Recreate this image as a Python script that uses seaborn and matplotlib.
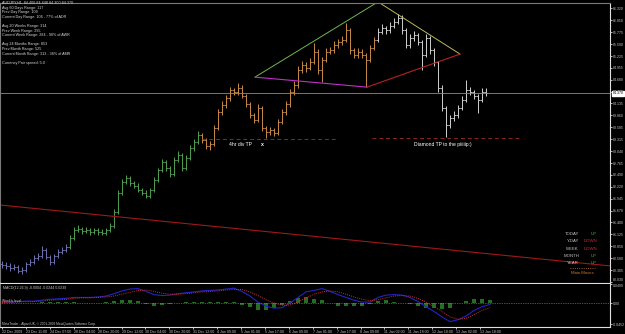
import matplotlib
matplotlib.use("Agg")
import matplotlib.pyplot as plt
import numpy as np
import pandas as pd
import seaborn as sns

# ---------------- data ----------------
first_open = 80.45
closes = [80.42, 80.40, 80.35, 80.37, 80.28, 80.31, 80.44, 80.49, 80.58, 80.63,
          80.77, 80.61, 80.49, 80.63, 80.72, 80.77, 80.83, 81.04, 81.22, 81.25,
          81.20, 81.22, 81.18, 81.22, 81.18, 81.16, 81.22, 81.32, 81.64, 82.08,
          82.33, 82.42, 82.31, 82.24, 82.15, 82.08, 82.01, 82.15, 82.38, 82.60,
          82.79, 82.65, 82.51, 82.83, 82.95, 82.65, 82.88, 83.11, 83.25, 83.41,
          83.29, 83.16, 83.20, 83.57, 83.94, 84.10, 84.26, 84.44, 84.40, 84.49,
          84.31, 84.12, 83.87, 83.75, 84.03, 83.57, 83.48, 83.52, 83.46, 83.71,
          83.94, 84.12, 84.40, 84.56, 84.90, 85.02, 84.95, 85.09, 85.32, 84.90,
          85.13, 85.32, 85.36, 85.48, 85.55, 85.59, 85.82, 85.36, 85.25, 85.32,
          85.25, 85.13, 85.41, 85.59, 85.78, 85.87, 85.82, 85.91, 86.01, 86.10,
          85.82, 85.48, 85.64, 85.71, 85.55, 85.25, 85.64, 85.36, 85.09, 84.49,
          84.03, 83.64, 83.80, 83.87, 84.03, 84.21, 84.44, 84.40, 84.31, 84.21,
          84.40, 84.37]
highs = [80.52, 80.50, 80.46, 80.45, 80.42, 80.38, 80.50, 80.56, 80.65, 80.70,
         80.85, 80.81, 80.66, 80.68, 80.78, 80.84, 80.90, 81.10, 81.30, 81.33,
         81.30, 81.29, 81.27, 81.28, 81.26, 81.24, 81.28, 81.38, 81.70, 82.14,
         82.40, 82.50, 82.47, 82.36, 82.30, 82.20, 82.14, 82.20, 82.44, 82.66,
         82.86, 82.84, 82.70, 82.90, 83.04, 83.00, 82.94, 83.18, 83.32, 83.50,
         83.46, 83.34, 83.27, 83.64, 84.00, 84.18, 84.33, 84.52, 84.50, 84.60,
         84.55, 84.36, 84.16, 83.92, 84.13, 84.08, 83.62, 83.60, 83.58, 83.77,
         84.00, 84.20, 84.46, 84.64, 85.00, 85.10, 85.08, 85.18, 85.52, 85.38,
         85.20, 85.40, 85.44, 85.56, 85.62, 85.68, 85.98, 85.88, 85.42, 85.40,
         85.38, 85.30, 85.48, 85.66, 85.86, 85.95, 85.92, 86.00, 86.10, 86.20,
         86.16, 85.86, 85.72, 85.80, 85.76, 85.60, 85.74, 85.68, 85.42, 85.12,
         84.55, 84.08, 83.88, 83.95, 84.10, 84.30, 84.67, 84.52, 84.45, 84.36,
         84.48, 84.50]
lows = [80.36, 80.33, 80.29, 80.30, 80.24, 80.22, 80.27, 80.40, 80.45, 80.53,
        80.58, 80.55, 80.42, 80.45, 80.58, 80.67, 80.72, 80.79, 81.00, 81.17,
        81.14, 81.15, 81.12, 81.13, 81.12, 81.10, 81.12, 81.18, 81.28, 81.60,
        82.02, 82.28, 82.24, 82.18, 82.09, 82.02, 81.95, 81.96, 82.10, 82.33,
        82.55, 82.58, 82.44, 82.47, 82.78, 82.58, 82.60, 82.84, 83.05, 83.20,
        83.22, 83.08, 83.06, 83.15, 83.52, 83.88, 84.04, 84.20, 84.33, 84.34,
        84.25, 84.05, 83.80, 83.68, 83.70, 83.50, 83.34, 83.42, 83.39, 83.42,
        83.66, 83.88, 84.06, 84.34, 84.50, 84.84, 84.86, 84.90, 85.04, 84.82,
        84.62, 85.08, 85.27, 85.30, 85.42, 85.48, 85.54, 85.28, 85.18, 85.18,
        85.18, 84.51, 85.08, 85.36, 85.54, 85.72, 85.74, 85.76, 85.86, 85.96,
        85.74, 85.40, 85.42, 85.58, 85.48, 84.90, 85.20, 85.28, 85.00, 84.40,
        83.95, 83.36, 83.58, 83.74, 83.80, 83.98, 84.16, 84.32, 84.24, 83.91,
        84.16, 84.30]

segment_starts = [0, 17, 50, 94]
segment_colors = ["#6e72b0", "#4f9f4f", "#c98a45", "#d0d0d0"]

price_ticks = [80.030, 80.305, 80.580, 80.850, 81.125, 81.400, 81.670, 81.945,
               82.220, 82.490, 82.765, 83.040, 83.315, 83.585, 83.860, 84.135,
               84.405, 84.680, 84.955, 85.225, 85.500, 85.775, 86.050, 86.320]

date_labels = ["22 Dec 2009", "23 Dec 11:00", "24 Dec 07:00", "28 Dec 04:00",
               "28 Dec 20:00", "29 Dec 12:00", "30 Dec 04:00", "30 Dec 20:00",
               "31 Dec 12:00", "4 Jan 09:00", "5 Jan 01:00", "5 Jan 17:00",
               "6 Jan 09:00", "7 Jan 01:00", "7 Jan 17:00", "8 Jan 09:00",
               "11 Jan 02:00", "11 Jan 18:00", "12 Jan 10:00", "13 Jan 02:00",
               "13 Jan 18:00"]

# MACD sampled every 2 bars
macd = [0.002, 0.002, 0.003, 0.004, 0.004, 0.006, 0.008, 0.009, 0.010, 0.012,
        0.012, 0.012, 0.013, 0.015, 0.020, 0.026, 0.030, 0.031, 0.025, 0.018,
        0.016, 0.017, 0.020, 0.022, 0.024, 0.026, 0.027, 0.028, 0.030, 0.032,
        0.025, 0.015, 0.002, -0.007, -0.011, -0.010, 0.000, 0.012, 0.024, 0.027,
        0.031, 0.025, 0.018, 0.012, 0.006, 0.002, 0.002, 0.012, 0.017, 0.018,
        0.017, 0.012, 0.003, -0.008, -0.018, -0.030, -0.040, -0.036, -0.028, -0.016,
        -0.008, -0.003]
signal = [0.001, 0.002, 0.002, 0.003, 0.003, 0.004, 0.006, 0.007, 0.008, 0.010,
          0.011, 0.011, 0.012, 0.013, 0.015, 0.019, 0.023, 0.027, 0.028, 0.025,
          0.021, 0.019, 0.019, 0.020, 0.022, 0.024, 0.025, 0.026, 0.028, 0.029,
          0.029, 0.024, 0.016, 0.007, 0.000, -0.005, -0.004, 0.002, 0.011, 0.019,
          0.024, 0.026, 0.024, 0.019, 0.013, 0.008, 0.005, 0.007, 0.011, 0.015,
          0.016, 0.015, 0.010, 0.002, -0.008, -0.018, -0.030, -0.035, -0.033, -0.025,
          -0.016, -0.010]
osma = [0.001, 0.000, 0.001, 0.001, 0.001, 0.002, 0.002, 0.002, 0.002, 0.002,
        0.001, 0.001, 0.001, 0.002, 0.005, 0.007, 0.007, 0.004, -0.003, -0.007,
        -0.005, -0.002, 0.001, 0.002, 0.002, 0.002, 0.002, 0.002, 0.002, 0.003,
        -0.004, -0.009, -0.014, -0.014, -0.011, -0.005, 0.004, 0.010, 0.013, 0.008,
        0.007, -0.001, -0.006, -0.007, -0.007, -0.006, -0.003, 0.005, 0.006, 0.003,
        0.001, -0.003, -0.007, -0.010, -0.010, -0.012, -0.010, -0.001, 0.005, 0.009,
        0.008, 0.007]

# trend lines (bar index, price)
green_line = ([63.25, 94.0], [84.74, 86.47])
khaki_line = ([94.0, 114.5], [86.47, 85.27])
magenta_line = ([63.25, 91.25], [84.74, 84.51])
red_line = ([91.25, 114.5], [84.51, 85.27])
long_red_line = ([-0.5, 152.0], [81.80, 80.40])
tp_4h = ([50.0, 83.75], 83.32)
tp_diamond = ([92.5, 130.0], 83.34)

info_lines = ["AUDJPY,H1  84.406 84.448 84.300 84.370",
              "Avg 60 Days Range: 117",
              "Prev Day Range: 109",
              "Current Day Range: 106 - 77% of ADR",
              None,
              "Avg 20 Weeks Range: 314",
              "Prev Week Range: 295",
              "Current Week Range: 284 - 90% of AWR",
              None,
              "Avg 24 Months Range: 853",
              "Prev Month Range: 525",
              "Current Month Range: 313 - 36% of AMR",
              None,
              "Currency Pair spread: 5.0"]

legend_names = ["TODAY", "Y-DAY", "WEEK", "MONTH", "YEAR"]
legend_states = ["UP", "DOWN", "DOWN", "UP", "UP"]

# ---------------- styling ----------------
sns.set_style("dark", {"axes.facecolor": "black", "figure.facecolor": "black"})
plt.rcParams["font.family"] = ["Liberation Sans", "DejaVu Sans"]

W, H = 625, 334
fig = plt.figure(figsize=(W / 100, H / 100), dpi=100)
fig.patch.set_facecolor("black")

def fx(x):
    return x / W

def fy(y):
    return 1 - y / H

TXT = "#c8c8c8"

# main price axes: pixels x 0..610, y 3..283
ax = fig.add_axes([0, fy(283), fx(610), (283 - 3) / H])
ax.set_facecolor("black")
n = len(closes)
idx = np.arange(n)
opens = [first_open] + closes[:-1]
df = pd.DataFrame({"i": idx, "open": opens, "high": highs, "low": lows, "close": closes})
seg_id = np.searchsorted(segment_starts, idx, side="right") - 1
df["color"] = [segment_colors[s] for s in seg_id]

ax.vlines(df["i"], df["low"], df["high"], colors=df["color"], lw=0.7)
ax.hlines(df["open"], df["i"] - 0.4, df["i"], colors=df["color"], lw=0.6)
ax.hlines(df["close"], df["i"], df["i"] + 0.4, colors=df["color"], lw=0.6)

# horizontal current price line
ax.axhline(closes[-1], color="#8a8a8a", lw=0.6)

# trend lines
sns.lineplot(x=long_red_line[0], y=long_red_line[1], ax=ax, color="#a01818", lw=0.8)
sns.lineplot(x=green_line[0], y=green_line[1], ax=ax, color="#6fb84f", lw=0.7)
sns.lineplot(x=khaki_line[0], y=khaki_line[1], ax=ax, color="#b9b960", lw=0.7)
sns.lineplot(x=magenta_line[0], y=magenta_line[1], ax=ax, color="#c030c8", lw=0.8)
sns.lineplot(x=red_line[0], y=red_line[1], ax=ax, color="#b52222", lw=0.8)
ax.hlines(tp_4h[1], tp_4h[0][0], tp_4h[0][1], colors="#8f2424", lw=0.7, linestyles=(0, (4, 3)))
ax.hlines(tp_diamond[1], tp_diamond[0][0], tp_diamond[0][1], colors="#8f2424", lw=0.7, linestyles=(0, (4, 3)))

ax.text(59.5, 83.18, "4hr div TP", color="white", fontsize=3.6, ha="center", va="center")
ax.text(65.0, 83.18, "x", color="white", fontsize=3.8, ha="center", va="center", fontweight="bold")
ax.text(110.3, 83.20, "Diamond TP to the piiiiip:)", color="white", fontsize=3.6, ha="center", va="center")

ax.set_xlim(-0.5, 152)
ax.set_ylim(80.007, 86.444)
ax.yaxis.tick_right()
ax.set_yticks(price_ticks)
ax.set_yticklabels([f"{v:.3f}" for v in price_ticks])
ax.tick_params(axis="y", colors="white", labelcolor=TXT, labelsize=2.5, length=1.5, width=0.5, pad=0.4, right=True)
ax.get_yticklabels()[0].set_verticalalignment("bottom")
ax.set_xticks([])
ax.set_xlabel("")
ax.set_ylabel("")
for side in ["left", "top"]:
    ax.spines[side].set_visible(True)
    ax.spines[side].set_color("#7a7a7a")
    ax.spines[side].set_linewidth(0.8)
for side in ["right", "bottom"]:
    ax.spines[side].set_visible(True)
    ax.spines[side].set_color("#e0e0e0")
    ax.spines[side].set_linewidth(0.8)

# current price box
fig.text(fx(612.5), fy(93.5), f"{closes[-1]:.3f}", fontsize=2.5, color="black", va="center", ha="left",
         bbox=dict(boxstyle="square,pad=0.15", fc="white", ec="white"))

# info block
y0 = 3
for line in info_lines:
    if line is not None:
        fig.text(fx(2), fy(y0), line, fontsize=2.7, color="#d8d8d8", va="center", ha="left")
    y0 += 4.6

# legend block
ly = [234, 241.5, 249, 256, 263]
for name, state, yy in zip(legend_names, legend_states, ly):
    fig.text(fx(579), fy(yy), name, fontsize=3.1, color=TXT, ha="right", va="center")
    fig.text(fx(597), fy(yy), state, fontsize=3.1, color="#2ecc2e" if state == "UP" else "#d42a2a",
             ha="right", va="center")
fig.add_artist(plt.Line2D([fx(570), fx(595)], [fy(268), fy(268)], color="#c87830", lw=0.6, ls=":"))
fig.text(fx(582), fy(273), "Main Moves", fontsize=3.1, color="#d2782e", ha="center", va="center")

# MACD axes: pixels y 284..327
ax2 = fig.add_axes([0, fy(327), fx(610), (327 - 284) / H])
ax2.set_facecolor("black")
mx = np.arange(len(macd)) * 2
mdf = pd.DataFrame({"x": mx, "macd": macd, "signal": signal, "osma": osma})
ax2.bar(mdf["x"], mdf["osma"], width=1.1, color="#2a7a2a", edgecolor="none", linewidth=0, alpha=0.9)
sns.lineplot(data=mdf, x="x", y="macd", ax=ax2, color="#2424c8", lw=0.8)
sns.lineplot(data=mdf, x="x", y="signal", ax=ax2, color="#d03030", lw=0.7, linestyle=(0, (1, 1.2)))
ax2.axhline(0, color="#9a9a9a", lw=0.5, ls=(0, (1, 1.5)))
ax2.set_xlim(-0.5, 152)
ax2.set_ylim(-0.0516, 0.0409)
ax2.yaxis.tick_right()
ax2.set_yticks([0.0409, 0.0, -0.0452])
ax2.set_yticklabels(["0.0409", "0.00", "-0.0452"])
ax2.tick_params(axis="y", colors="white", labelcolor=TXT, labelsize=2.5, length=1.5, width=0.5, pad=0.4, right=True)
ax2.get_yticklabels()[0].set_verticalalignment("top")
date_pos = np.arange(len(date_labels)) * 5.975
ax2.set_xticks(date_pos)
ax2.set_xticklabels(date_labels)
for t in ax2.get_xticklabels():
    t.set_horizontalalignment("left")
ax2.tick_params(axis="x", colors="white", labelcolor=TXT, labelsize=2.6, length=1.5, width=0.5, pad=0.8, bottom=True)
ax2.set_xlabel("")
ax2.set_ylabel("")
ax2.spines["top"].set_visible(False)
ax2.spines["left"].set_visible(True)
ax2.spines["left"].set_color("#7a7a7a")
for side in ["right", "bottom"]:
    ax2.spines[side].set_visible(True)
    ax2.spines[side].set_color("#e0e0e0")
    ax2.spines[side].set_linewidth(0.8)

fig.text(fx(3), fy(288), "MACD(12,26,9) -0.0004 -0.0244 0.0239", fontsize=2.6, color=TXT, va="center")
fig.text(fx(2), fy(301), "Weekly level", fontsize=2.4, color=TXT, va="center")
fig.text(fx(2), fy(323.5), "MetaTrader - Alpari UK, \u00a9 2001-2009 MetaQuotes Software Corp.",
         fontsize=2.3, color=TXT, va="center")

fig.savefig("out.png", dpi=100, facecolor="black")
